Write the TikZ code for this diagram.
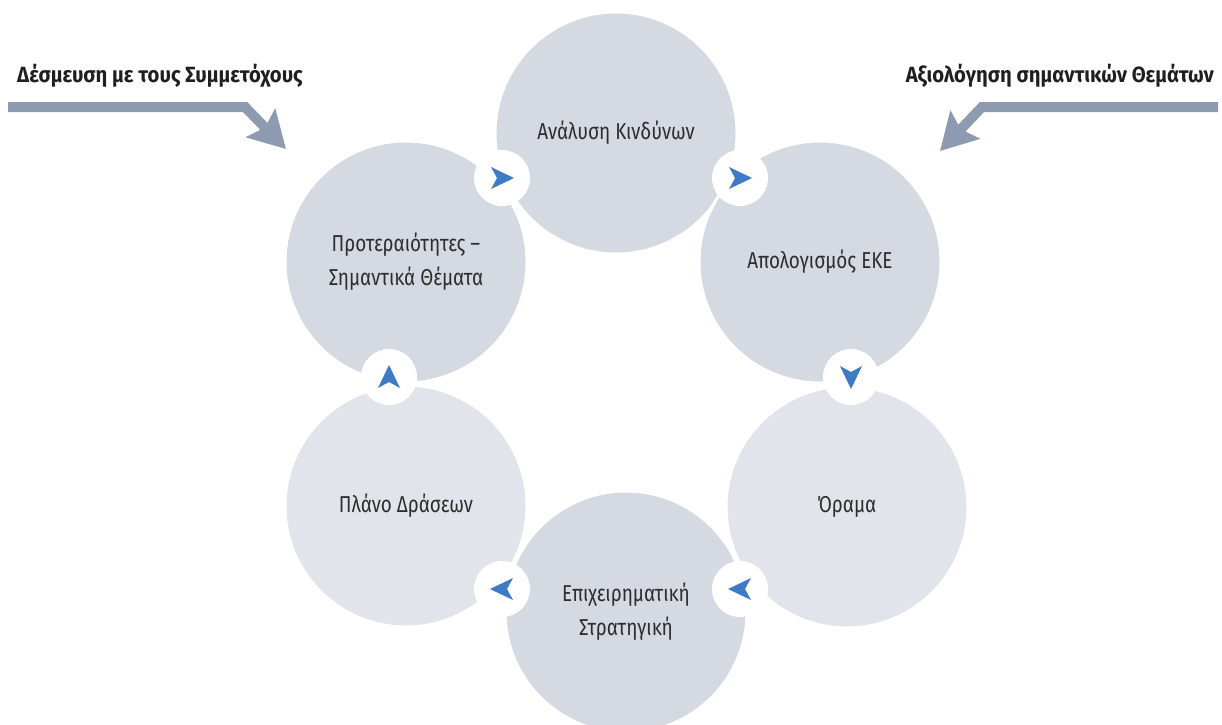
\documentclass[tikz,border=0pt]{standalone}
\usepackage{fontspec}
\setmainfont{Fira Sans}[FakeStretch=0.82]
\newfontfamily\headfont{Fira Sans}[FakeStretch=0.92]
\usetikzlibrary{arrows.meta}
\definecolor{bubbledark}{RGB}{212,217,226}
\definecolor{bubblelight}{RGB}{225,228,234}
\definecolor{cycleblue}{RGB}{61,124,196}
\definecolor{sidegray}{RGB}{141,154,176}
\definecolor{labelgray}{RGB}{45,45,45}
\tikzset{
  bubble/.style={circle, minimum size=242pt, inner sep=0pt, draw=white, line width=3pt,
    align=center, text=labelgray, font=\fontsize{23}{34}\selectfont},
  hub/.style={circle, fill=white, minimum size=56pt, inner sep=0pt},
  cyclehead/.style={fill=cycleblue},
  header/.style={font=\headfont\bfseries\fontsize{22}{26}\selectfont, text=black!88, inner sep=0pt},
  sidearrow/.style={draw=sidegray, line width=10pt, line join=miter,
    -{Stealth[length=36pt,width=40pt,inset=6pt]}}
}
\begin{document}
\begin{tikzpicture}[x=1pt,y=-1pt]
    \useasboundingbox (0,0) rectangle (1222,724);
    %\draw [help lines] (0,0) grid (1222,724);

    % the six stages
    \node [bubble, fill=bubbledark] (risk) at (616,133) {Ανάλυση Κινδύνων};
    \node [bubble, fill=bubbledark] (report) at (820,262) {Απολογισμός ΕΚΕ};
    \node [bubble, fill=bubblelight] (vision) at (847,507) {Όραμα};
    \node [bubble, fill=bubbledark] (strategy) at (626,612) {Επιχειρηματική\\Στρατηγική};
    \node [bubble, fill=bubblelight] (plan) at (406,506) {Πλάνο Δράσεων};
    \node [bubble, fill=bubbledark] (priority) at (406,262) {Προτεραιότητες –\\Σημαντικά Θέματα};

    % white hubs with the blue heads
    \node [hub] (h1) at (502,178) {};
    \node [hub] (h2) at (740,178) {};
    \node [hub] (h3) at (851,377) {};
    \node [hub] (h4) at (740,589) {};
    \node [hub] (h5) at (502,589) {};
    \node [hub] (h6) at (389,377) {};
    \fill [cyclehead, shift={(h1)}] (12,0) -- (-11,-11) -- (-5,0) -- (-11,11) -- cycle;
    \fill [cyclehead, shift={(h2)}] (12,0) -- (-11,-11) -- (-5,0) -- (-11,11) -- cycle;
    \fill [cyclehead, shift={(h3)}, rotate=-90] (12,0) -- (-11,-11) -- (-5,0) -- (-11,11) -- cycle;
    \fill [cyclehead, shift={(h4)}, rotate=180] (12,0) -- (-11,-11) -- (-5,0) -- (-11,11) -- cycle;
    \fill [cyclehead, shift={(h5)}, rotate=180] (12,0) -- (-11,-11) -- (-5,0) -- (-11,11) -- cycle;
    \fill [cyclehead, shift={(h6)}, rotate=90] (12,0) -- (-11,-11) -- (-5,0) -- (-11,11) -- cycle;

    % inputs from the sides
    \node [header, anchor=west] (engage) at (17,76) {Δέσμευση με τους Συμμετόχους};
    \node [header, anchor=east] (assess) at (1214,76) {Αξιολόγηση σημαντικών Θεμάτων};
    \coordinate (engagestart) at (8,107);
    \coordinate (engagebend) at (245,107);
    \coordinate (engagetip) at (286,149);
    \coordinate (assessstart) at (1218,107);
    \coordinate (assessbend) at (982,107);
    \coordinate (assesstip) at (940,151);
    \draw [sidearrow] (engagestart) -- (engagebend) -- (engagetip);
    \draw [sidearrow] (assessstart) -- (assessbend) -- (assesstip);
\end{tikzpicture}
\end{document}
